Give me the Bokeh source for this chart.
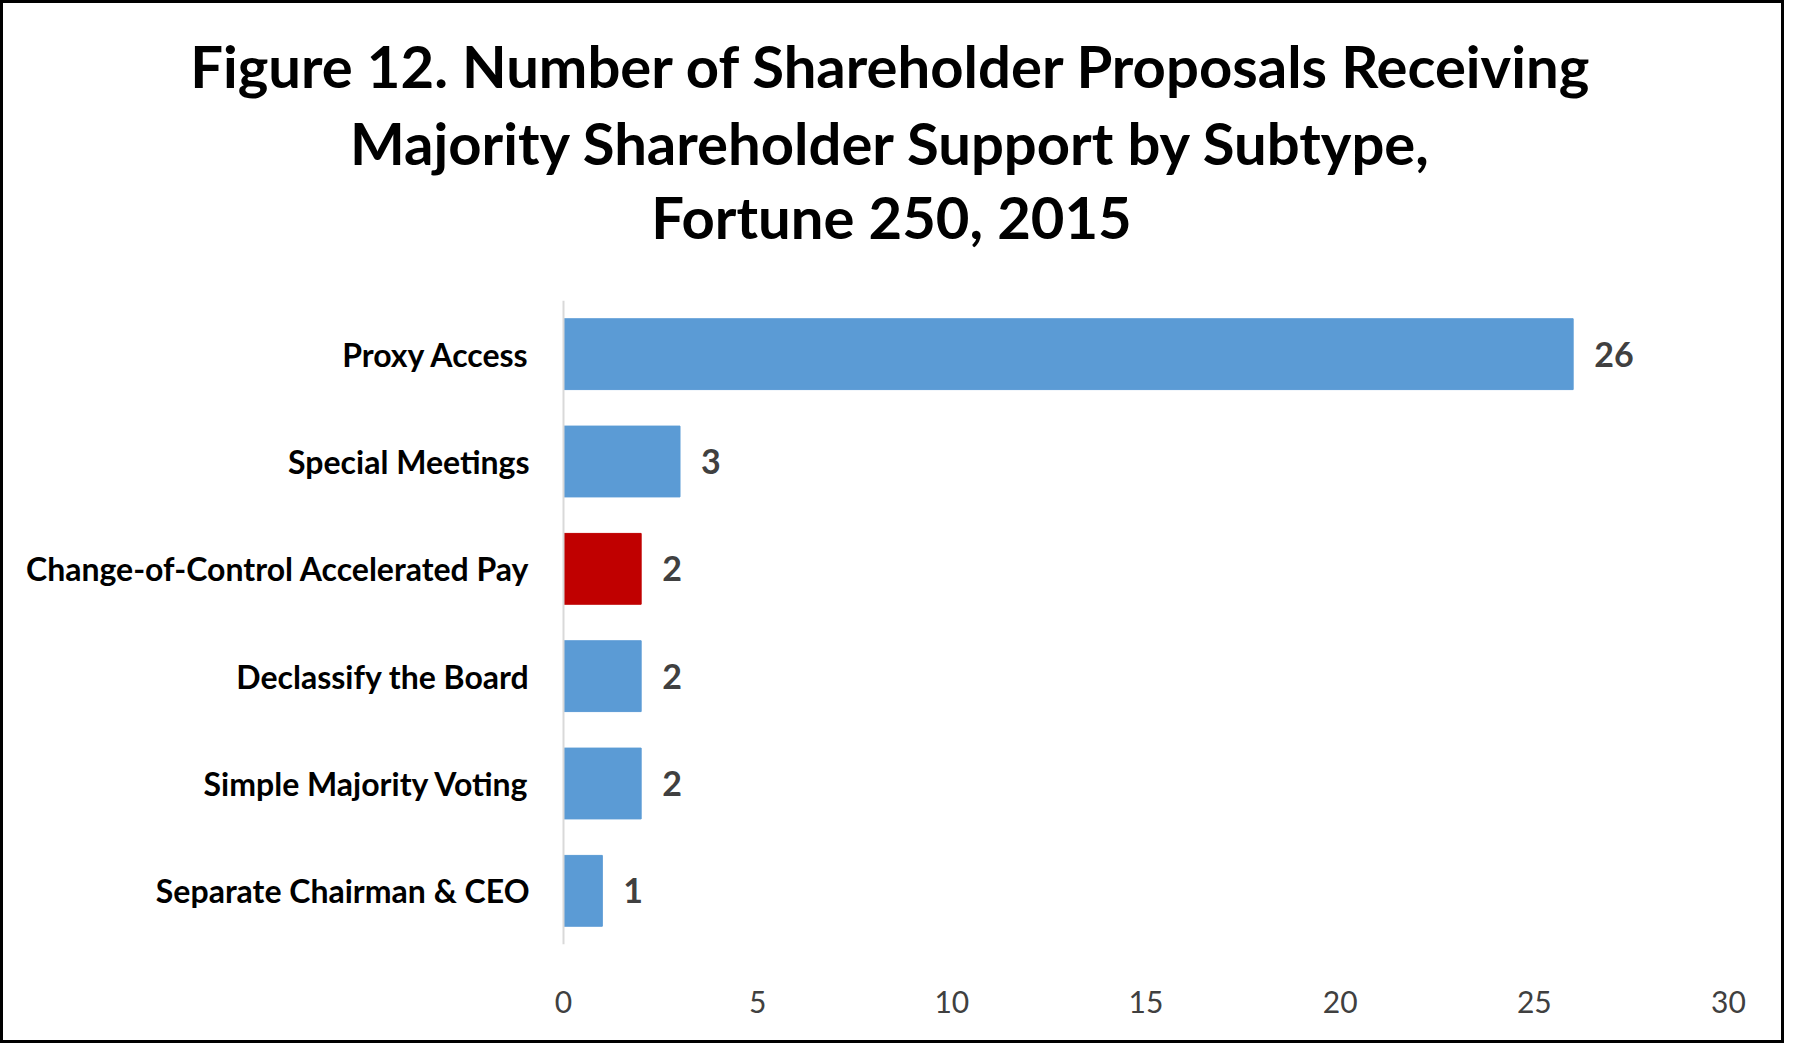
from bokeh.plotting import figure
from bokeh.layouts import column
from bokeh.models import FactorRange, Range1d, ColumnDataSource, FixedTicker, Span
from bokeh.core.properties import value
from bokeh.embed import file_html
from bokeh.resources import INLINE

title_lines = [
    "Figure 12. Number of Shareholder Proposals Receiving",
    "Majority Shareholder Support by Subtype,",
    "Fortune 250, 2015",
]
categories = [
    "Proxy Access",
    "Special Meetings",
    "Change-of-Control Accelerated Pay",
    "Declassify the Board",
    "Simple Majority Voting",
    "Separate Chairman & CEO",
]
counts = [26, 3, 2, 2, 2, 1]
bar_colors = ["#5B9BD5", "#5B9BD5", "#C00000", "#5B9BD5", "#5B9BD5", "#5B9BD5"]
x_ticks = [0, 5, 10, 15, 20, 25, 30]
x_max = 30

FONT = "Lato"
W = 1778
HEAD_H = 297
MAIN_H = 740
AXIS_LEFT = 560      # px from canvas left to value 0
AXIS_RIGHT_PAD = 53  # px from value 30 to canvas right

# ---- header (title) figure ----
head = figure(width=W, height=HEAD_H, x_range=Range1d(0, W), y_range=Range1d(0, HEAD_H),
              output_backend="svg", toolbar_location=None, title=None,
              min_border=0, min_border_left=0, min_border_right=0,
              min_border_top=0, min_border_bottom=0)
head.axis.visible = False
head.grid.visible = False
head.outline_line_color = None
head.background_fill_color = "white"
head.border_fill_color = "white"
tsrc = ColumnDataSource(dict(x=[888, 888, 888], y=[235, 158, 84], t=title_lines))
head.text(x="x", y="y", text="t", source=tsrc, text_align="center",
          text_baseline="middle", text_font=value(FONT), text_font_style="bold",
          text_font_size="58px", text_color="#000000")

# ---- main bar chart (frame spans full width; value axis 0..30 inside) ----
px_per_unit = (W - AXIS_LEFT - AXIS_RIGHT_PAD) / x_max
x_lo = -AXIS_LEFT / px_per_unit
x_hi = x_max + AXIS_RIGHT_PAD / px_per_unit

src = ColumnDataSource(dict(cat=categories, count=counts, color=bar_colors,
                            label=[str(c) for c in counts],
                            zero=[0] * len(categories)))

p = figure(width=W, height=MAIN_H,
           y_range=FactorRange(factors=list(reversed(categories)), range_padding=0),
           x_range=Range1d(x_lo, x_hi),
           output_backend="svg", toolbar_location=None, title=None,
           min_border_left=0, min_border_right=0, min_border_bottom=96,
           min_border_top=0)

p.hbar(y="cat", right="count", left=0, height=0.66, color="color", source=src)
p.text(x="count", y="cat", text="label", source=src, x_offset=21,
       text_baseline="middle", text_align="left",
       text_font=value(FONT), text_font_style="bold", text_font_size="34px",
       text_color="#404040")
# category labels
p.text(x="zero", y="cat", text="cat", source=src, x_offset=-34,
       text_baseline="middle", text_align="right",
       text_font=value(FONT), text_font_style="bold", text_font_size="32px",
       text_color="#000000")
# category axis line at value 0
p.add_layout(Span(location=0, dimension="height", line_color="#D9D9D9", line_width=2))

p.xgrid.visible = False
p.ygrid.visible = False
p.yaxis.visible = False
p.outline_line_color = None
p.background_fill_color = "white"
p.border_fill_color = "white"

p.xaxis.ticker = FixedTicker(ticks=x_ticks)
p.xaxis.axis_line_color = None
p.xaxis.major_tick_line_color = None
p.xaxis.minor_tick_line_color = None
p.xaxis.major_label_standoff = 40
p.xaxis.major_label_text_font = FONT
p.xaxis.major_label_text_font_size = "30px"
p.xaxis.major_label_text_color = "#404040"

layout = column(head, p, spacing=0)
layout.styles = {"border": "3px solid #000000", "background-color": "white"}

open("out.html", "w").write(file_html(layout, INLINE))
